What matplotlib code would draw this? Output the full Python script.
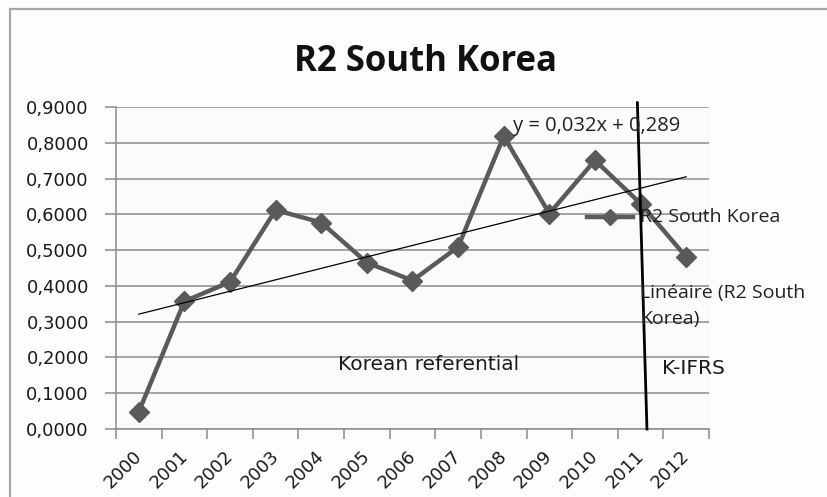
import matplotlib.pyplot as plt
import matplotlib.transforms as mtrans
import numpy as np
from matplotlib.patches import Rectangle
from matplotlib.ticker import FuncFormatter

years = ['2000', '2001', '2002', '2003', '2004', '2005', '2006',
         '2007', '2008', '2009', '2010', '2011', '2012']
r2 = [0.048, 0.357, 0.411, 0.612, 0.577, 0.465, 0.415,
      0.509, 0.818, 0.602, 0.751, 0.630, 0.481]
yticks = [0.0, 0.1, 0.2, 0.3, 0.4, 0.5, 0.6, 0.7, 0.8, 0.9]
# trend as printed on the chart: y = 0,032x + 0,289 (x = 1 for 2000)
slope = 0.032
intercept = 0.289
# IFRS adoption divider (category units, slightly slanted as in the original)
divider_x = [10.93, 11.14]
divider_y = [0.912, 0.0]

fig = plt.figure(figsize=(8.27, 4.97), dpi=100)
fig.patch.set_facecolor('#fdfdfd')
fig.patches.append(Rectangle((10/827, -0.1), 1.2, 1.1 - 9/497, transform=fig.transFigure,
                             fill=False, edgecolor='#a6a6a6', lw=1.6))

ax = fig.add_axes([116/827, 1 - 429/497, (709 - 116)/827, (429 - 107)/497])
ax.set_facecolor('#fbfbfb')
x = np.arange(len(years))

ax.plot(x, r2, color='#5a5a5a', lw=3.2, marker='D', markersize=10,
        markerfacecolor='#5a5a5a', markeredgecolor='#5a5a5a', zorder=3)

tx = np.array([0, len(years) - 1])
ax.plot(tx, slope * (tx + 1) + intercept, color='black', lw=0.9, zorder=4)

ax.plot(divider_x, divider_y, color='black', lw=2, zorder=5, clip_on=False)

ax.set_xlim(-0.5, len(years) - 0.5)
ax.set_ylim(0, 0.9)
ax.set_yticks(yticks)
ax.yaxis.set_major_formatter(FuncFormatter(lambda v, p: f'{v:.4f}'.replace('.', ',')))
ax.grid(axis='y', color='#8c8c8c', lw=1.1)
ax.set_axisbelow(True)

ax.set_xticks(np.arange(-0.5, len(years)), minor=False)
ax.set_xticklabels([])
ax.set_xticks(x, minor=True)
ax.set_xticklabels(years, minor=True, rotation=45, ha='right', rotation_mode='anchor',
                   fontsize=13, color='#1a1a1a')
ax.tick_params(axis='x', which='major', length=7, color='#8c8c8c', width=1.1)
ax.tick_params(axis='x', which='minor', length=0, pad=13)
ax.tick_params(axis='y', length=8, color='#8c8c8c', width=1.1, labelsize=12.9,
               labelcolor='#1a1a1a', pad=11.5)
shift = mtrans.ScaledTranslation(-0.06, 0, fig.dpi_scale_trans)
for lbl in ax.get_xticklabels(minor=True):
    lbl.set_transform(lbl.get_transform() + shift)

for s in ['top', 'right']:
    ax.spines[s].set_visible(False)
ax.spines['left'].set_color('#8c8c8c')
ax.spines['bottom'].set_color('#8c8c8c')
ax.spines['left'].set_linewidth(1.1)
ax.spines['bottom'].set_linewidth(1.1)

fig.text(425/827, 1 - 62/497, 'R2 South Korea', ha='center', va='center',
         fontsize=25, fontweight='bold', family='Open Sans', color='#111111')

fig.text(513/827, 1 - 126/497, f'y = {slope:.3f}x + {intercept:.3f}'.replace('.', ','),
         ha='left', va='center', fontsize=14.5, family='Open Sans', color='#222222')
fig.text(338/827, 1 - 365/497, 'Korean referential', ha='left', va='center',
         fontsize=14.5, color='#1a1a1a')
fig.text(662/827, 1 - 368/497, 'K-IFRS', ha='left', va='center',
         fontsize=14.5, color='#1a1a1a')

# legend entries as placed on the original
fig.lines.append(plt.Line2D([587/827, 633/827], [1 - 217/497] * 2, transform=fig.transFigure,
                            color='#5a5a5a', lw=3.2))
fig.lines.append(plt.Line2D([610/827], [1 - 217/497], transform=fig.transFigure,
                            color='#5a5a5a', marker='D', markersize=8, lw=0))
fig.text(640/827, 1 - 217/497, 'R2 South Korea', ha='left', va='center',
         fontsize=14, family='Open Sans', color='#222222')
fig.text(640/827, 1 - 306/497, 'Linéaire (R2 South\nKorea)', ha='left', va='center',
         fontsize=14, family='Open Sans', color='#222222', linespacing=1.55)

fig.savefig('out.png', dpi=100, facecolor=fig.get_facecolor())
